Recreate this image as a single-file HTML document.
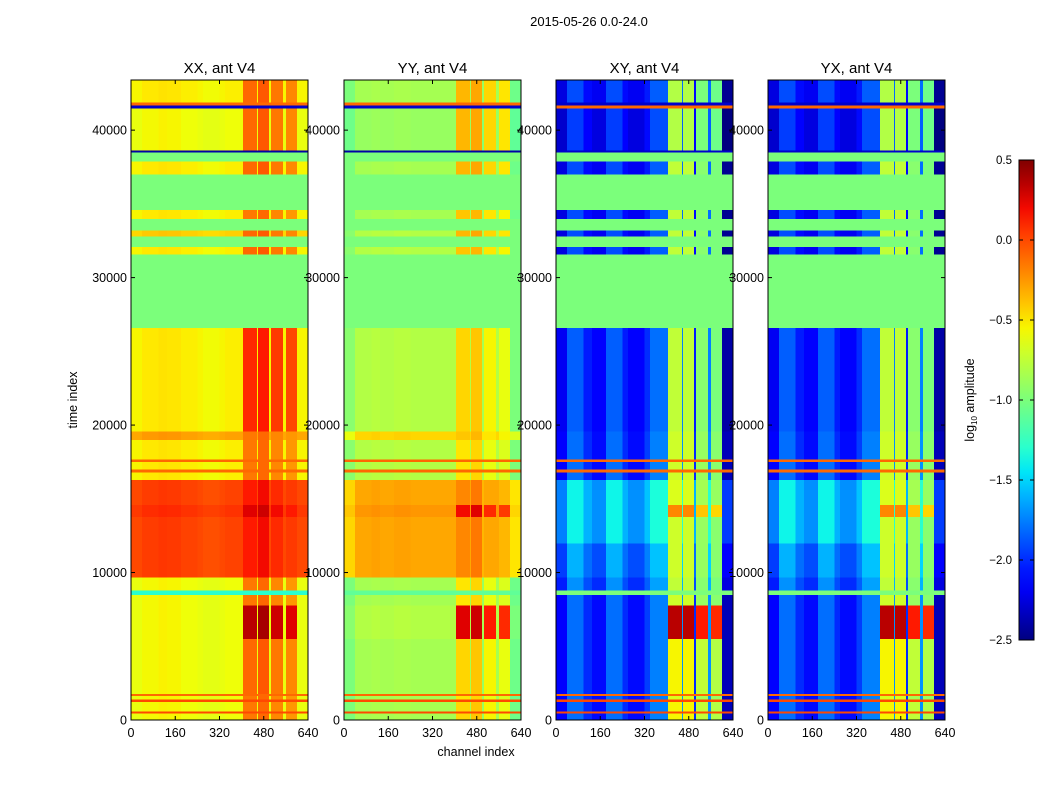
<!DOCTYPE html>
<html><head><meta charset="utf-8">
<style>
html,body{margin:0;padding:0;background:#fff;}
svg{display:block;font-family:"Liberation Sans","DejaVu Sans",sans-serif;}
</style></head>
<body>
<svg id="fig" width="1050" height="800" viewBox="0 0 1050 800" xmlns="http://www.w3.org/2000/svg">
<rect x="0" y="0" width="1050" height="800" fill="#fff"/>
<text x="589" y="26" font-size="13" text-anchor="middle">2015-05-26 0.0-24.0</text>
<g id="panels"></g>
<g id="cbar"></g>
</svg>
<script>
// ---- data ----
const panelTitles = ["XX, ant V4", "YY, ant V4", "XY, ant V4", "YX, ant V4"];
const xTickLabels = [0, 160, 320, 480, 640];
const yTickLabels = [0, 10000, 20000, 30000, 40000];
const cbarTicks = [0.5, 0.0, -0.5, -1.0, -1.5, -2.0, -2.5];
const chanEdges = [0,40,100,130,180,240,260,320,340,405,455,459,499,506,549,560,600,640];
const stripFlag = [0,0,0,0,0,0,0,0,0,1,0,1,0,1,0,1,0];
const xxCol = [0,0.04,0.06,0.05,0.02,0,-0.02,0,0.02, 0.05,0,0.1,0,0,0,-0.05,0];
const yyCol = [-0.15,0,0.02,0,0.02,0,0,0,0, 0,0,0.05,-0.05,-0.1,0,-0.15,-0.2];
const xyCol = [-0.15,0.2,0.0,-0.1,0.2,0.0,-0.1,0.05,0.25, 0.05,0.3,0.05,0.0,-0.15,0.3,-0.2,-0.35];
const yxCol = [-0.15,0.2,0.0,-0.1,0.2,0.0,-0.1,0.05,0.25, 0.05,0.3,0.05,0.0,-0.15,0.3,-0.2,-0.35];
const segStart = [0,450,600,1250,1400,1650,1800,5500,7800,8500,8800,9700,12000,13800,14600,16300,16800,17000,17500,17700,19000,19600,26600,31600,32100,32800,33200,34000,34600,37000,37900,38500,38650,41500,41700,41900];
const segEnd   = [450,600,1250,1400,1650,1800,5500,7800,8500,8800,9700,12000,13800,14600,16300,16800,17000,17500,17700,19000,19600,26600,31600,32100,32800,33200,34000,34600,37000,37900,38500,38650,41500,41700,41900,43400];
const xxBase  = [-0.6,0,-0.6,0,-0.6,-0.1,-0.6,-0.6,-0.6,-1.3,-0.6,0.0,0.0,0.05,0.0,-0.55,-0.1,-0.55,-0.1,-0.55,-0.3,-0.55,null,-0.55,null,-0.45,null,-0.55,null,-0.55,null,-2.4,-0.6,-2.3,-0.1,-0.55];
const xxStrip = [-0.2,0,-0.2,0,-0.2,-0.1,-0.15,0.3,-0.2,-1.3,-0.2,0.1,0.1,0.2,0.1,-0.2,-0.1,-0.2,-0.1,-0.2,-0.2,0.05,null,-0.15,null,-0.15,null,-0.2,null,-0.15,null,-2.4,-0.15,-2.3,-0.1,-0.15];
const yyBase  = [-0.85,0,-0.85,0,-0.85,-0.1,-0.85,-0.8,-0.85,-1.1,-0.85,-0.3,-0.3,-0.25,-0.3,-0.8,-0.1,-0.8,-0.1,-0.8,-0.45,-0.8,null,-0.8,null,-0.8,null,-0.85,null,-0.85,null,-2.4,-0.9,-2.3,-0.1,-0.85];
const yyStrip = [-0.45,0,-0.45,0,-0.5,-0.1,-0.45,0.25,-0.5,-1.1,-0.5,-0.2,-0.2,0.2,-0.2,-0.5,-0.1,-0.5,-0.1,-0.5,-0.4,-0.45,null,-0.4,null,-0.35,null,-0.4,null,-0.35,null,-2.4,-0.35,-2.3,-0.1,-0.35];
const xyBase  = [-2.0,0,-2.0,0,-2.0,-0.1,-2.0,-2.0,-2.0,-1.0,-1.9,-1.8,-1.6,-1.6,-1.6,-2.0,-0.1,-2.0,-0.1,-2.0,-2.0,-2.05,null,-2.1,null,-2.1,null,-2.1,null,-2.1,null,-2.3,-2.15,-0.1,-2.3,-2.1];
const xyStrip = [-0.6,0,-0.6,0,-0.7,-0.1,-0.6,0.3,-0.75,-1.0,-0.8,-0.75,-0.75,-0.25,-0.7,-0.75,-0.1,-0.75,-0.1,-0.75,-0.75,-0.8,null,-0.8,null,-0.8,null,-0.8,null,-0.8,null,-2.3,-0.85,-0.1,-2.3,-0.85];
const yxBase  = xyBase.slice();
const yxStrip = xyStrip.slice();

// ---- layout ----
const panelLeft = [131, 344, 556, 768];
const PW = 177, TOP = 80, BOT = 720, TMAX = 43400, CMAX = 640;
const VMIN = -2.5, VMAX = 0.5;
const NS = "http://www.w3.org/2000/svg";

function jet(v) {
  let x = (v - VMIN) / (VMAX - VMIN); x = Math.max(0, Math.min(1, x));
  function interp(pts) {
    for (let i = 0; i < pts.length - 1; i++) {
      if (x >= pts[i][0] && x <= pts[i+1][0]) {
        const f = (x - pts[i][0]) / (pts[i+1][0] - pts[i][0] || 1);
        return pts[i][1] + f * (pts[i+1][1] - pts[i][1]);
      }
    }
    return pts[pts.length-1][1];
  }
  const r = interp([[0,0],[0.35,0],[0.66,1],[0.89,1],[1,0.5]]);
  const g = interp([[0,0],[0.125,0],[0.375,1],[0.64,1],[0.91,0],[1,0]]);
  const b = interp([[0,0.5],[0.11,1],[0.34,1],[0.65,0],[1,0]]);
  return "rgb(" + Math.round(r*255) + "," + Math.round(g*255) + "," + Math.round(b*255) + ")";
}
function mk(tag, attrs, parent) {
  const e = document.createElementNS(NS, tag);
  for (const k in attrs) e.setAttribute(k, attrs[k]);
  parent.appendChild(e);
  return e;
}
const yScale = t => BOT - t / TMAX * (BOT - TOP);

const panelData = [
  [xxBase, xxStrip, xxCol],
  [yyBase, yyStrip, yyCol],
  [xyBase, xyStrip, xyCol],
  [yxBase, yxStrip, yxCol]
];
const panelsG = document.getElementById("panels");
const panelNames = ["xx", "yy", "xy", "yx"];

for (let p = 0; p < 4; p++) {
  const L = panelLeft[p];
  const xScale = c => L + c / CMAX * PW;
  const g = mk("g", {}, panelsG);
  
  
  const hm = mk("g", {"shape-rendering": "crispEdges"}, g);
  
  
  const [base, strip, col] = panelData[p];
  for (let s = 0; s < segStart.length; s++) {
    const y1 = yScale(segEnd[s]), y2 = yScale(segStart[s]);
    if (base[s] === null) {
      const r = mk("rect", {x: xScale(0), y: y1, width: PW, height: (y2 - y1) + 0.3, fill: jet(-1.0)}, hm);
      
      
      continue;
    }
    const uniform = base[s] === strip[s];
    for (let b = 0; b < chanEdges.length - 1; b++) {
      let v;
      if (uniform) v = base[s];
      else if (stripFlag[b]) v = strip[s] + col[b];
      else v = base[s] + col[b];
      const x1 = xScale(chanEdges[b]), x2 = xScale(chanEdges[b+1]);
      const r = mk("rect", {x: x1, y: y1, width: (x2 - x1) + 0.3, height: (y2 - y1) + 0.3, fill: jet(v)}, hm);
      
      
    }
  }
  const fr = mk("rect", {x: L, y: TOP, width: PW, height: BOT - TOP, fill: "none", stroke: "#000", "stroke-width": 1}, g);
  
  
  const tt = mk("text", {x: L + PW/2, y: 73, "font-size": 15, "text-anchor": "middle"}, g);
  tt.textContent = panelTitles[p];
  
  
  xTickLabels.forEach(c => {
    const x = xScale(c);
    mk("line", {x1: x, x2: x, y1: BOT, y2: BOT - 4, stroke: "#000"}, g);
    mk("line", {x1: x, x2: x, y1: TOP, y2: TOP + 4, stroke: "#000"}, g);
    const t = mk("text", {x: x, y: BOT + 17, "font-size": 12.5, "text-anchor": "middle"}, g);
    t.textContent = c;
    
    
  });
  yTickLabels.forEach(v => {
    const y = yScale(v);
    mk("line", {x1: L, x2: L + 4, y1: y, y2: y, stroke: "#000"}, g);
    mk("line", {x1: L + PW, x2: L + PW - 4, y1: y, y2: y, stroke: "#000"}, g);
    const t = mk("text", {x: L - 4, y: y + 4.5, "font-size": 12.5, "text-anchor": "end"}, g);
    t.textContent = v;
    
    
  });
}
const svg = document.getElementById("fig");
const yt = mk("text", {x: 77, y: 400, "font-size": 12.5, "text-anchor": "middle", transform: "rotate(-90 77 400)"}, svg);
yt.textContent = "time index";


const xt = mk("text", {x: 476, y: 756, "font-size": 12.5, "text-anchor": "middle"}, svg);
xt.textContent = "channel index";



const cb = document.getElementById("cbar");


const CBX = 1019, CBW = 15, CBT = 160, CBB = 640;
const defs = mk("defs", {}, cb);
const grad = mk("linearGradient", {id: "jetgrad", x1: 0, y1: 1, x2: 0, y2: 0}, defs);
for (let i = 0; i <= 20; i++) {
  const v = VMIN + (VMAX - VMIN) * i / 20;
  mk("stop", {offset: (i/20), "stop-color": jet(v)}, grad);
}
const cbr = mk("rect", {x: CBX, y: CBT, width: CBW, height: CBB - CBT, fill: "url(#jetgrad)", stroke: "#000", "stroke-width": 1}, cb);


cbarTicks.forEach(v => {
  const y = CBB - (v - VMIN) / (VMAX - VMIN) * (CBB - CBT);
  mk("line", {x1: CBX, x2: CBX + 4, y1: y, y2: y, stroke: "#000"}, cb);
  mk("line", {x1: CBX + CBW, x2: CBX + CBW - 4, y1: y, y2: y, stroke: "#000"}, cb);
  const t = mk("text", {x: 1012, y: y + 4, "font-size": 11.5, "text-anchor": "end"}, cb);
  t.textContent = (v < 0 ? "\u2212" : "") + Math.abs(v).toFixed(1);
  
  
});
const cl = mk("text", {x: 974, y: 400, "font-size": 12.5, "text-anchor": "middle", transform: "rotate(-90 974 400)"}, cb);
cl.innerHTML = 'log<tspan font-size="8" dy="3">10</tspan><tspan dy="-3"> amplitude</tspan>';


</script>
</body></html>
